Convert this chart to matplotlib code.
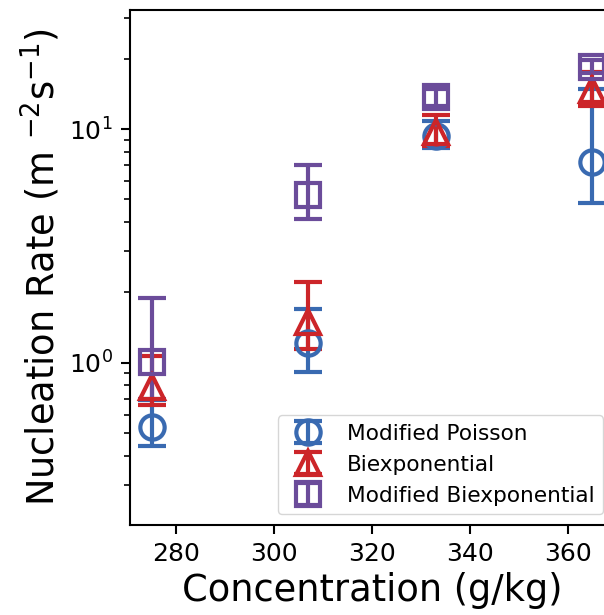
"""
Nucleation rate vs concentration for three fitting models (log scale).
"""
import numpy as np
import matplotlib
matplotlib.use("Agg")
import matplotlib.pyplot as plt

# concentrations (g/kg)
conc = [275, 307, 333, 365]

# Modified Poisson
mp_rate  = [0.53, 1.21, 9.3, 7.2]
mp_lower = [0.44, 0.915, 8.3, 4.84]
mp_upper = [0.69, 1.69, 10.85, 14.8]

# Biexponential
be_rate  = [0.79, 1.50, 9.7, 14.7]
be_lower = [0.66, 1.15, 8.5, 12.6]
be_upper = [1.07, 2.22, 11.5, 17.6]

# Modified Biexponential
mbe_rate  = [1.01, 5.2, 13.7, 18.5]
mbe_lower = [0.70, 4.11, 12.6, 17.3]
mbe_upper = [1.89, 7.02, 14.9, 19.8]

labels = ["Modified Poisson", "Biexponential", "Modified Biexponential"]
colors = ["#396AB1", "#CC2529", "#6B4C9A"]
markers = ["o", "^", "s"]


def _yerr(rate, lo, hi):
    r = np.array(rate)
    return [r - np.array(lo), np.array(hi) - r]


fig = plt.figure(figsize=(6.04, 6.15), dpi=100)
ax = fig.add_axes([0.2152, 0.1463, 0.8014, 0.8374])

series = [
    (mp_rate, mp_lower, mp_upper),
    (be_rate, be_lower, be_upper),
    (mbe_rate, mbe_lower, mbe_upper),
]
for (rate, lo, hi), lab, col, mk in zip(series, labels, colors, markers):
    ax.errorbar(conc, rate, yerr=_yerr(rate, lo, hi), fmt=mk, color=col,
                mfc="none", mec=col, markersize=17.5, mew=3,
                elinewidth=3, capsize=10, capthick=3, label=lab)

ax.set_yscale("log")
ax.set_ylim(0.202, 32.3)
ax.set_xlim(270.5, 369.5)
ax.set_xticks([280, 300, 320, 340, 360])

ax.set_xlabel("Concentration (g/kg)", fontsize=26.5)
ax.set_ylabel(r"Nucleation Rate (m $^{-2}$s$^{-1}$)", fontsize=26.5)

ax.tick_params(axis="both", which="major", labelsize=18, length=6.5,
               width=1.5, pad=6)
ax.tick_params(axis="y", which="minor", length=4, width=1.2)
for sp in ax.spines.values():
    sp.set_linewidth(1.5)

ax.legend(loc="lower right", fontsize=15.6)

fig.savefig("out.png", dpi=100)
plt.close(fig)
